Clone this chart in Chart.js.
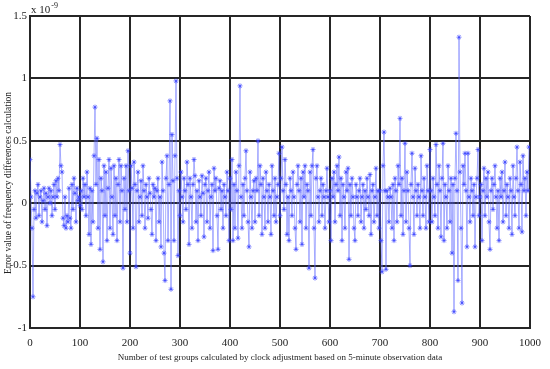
<!DOCTYPE html>
<html>
<head>
<meta charset="utf-8">
<script src="https://cdn.jsdelivr.net/npm/chart.js@4"></script>
<style>
  html, body { margin: 0; padding: 0; background: #fff; }
  #wrap { width: 550px; height: 369px; }
</style>
</head>
<body>
<div id="wrap"><canvas id="errChart" width="550" height="369"></canvas></div>
<script>
// test group index of each plotted value (every second group)
const groupIndex = Array.from({ length: 500 }, (_, i) => i * 2);

// error values, unit 1e-9
const errorValues = [
  0.35, 0.05, -0.2, -0.75, -0.05, 0.1, -0.12, 0.08, 0.15, -0.1, 0.05, 0.1, -0.15, 0.02, 0.12, -0.05, 0.08, -0.18, 0.05, 0.12, 0.0, 0.1, -0.1, 0.05, 0.15,
  -0.05, 0.18, 0.05, 0.2, 0.1, 0.47, 0.3, 0.25, -0.12, -0.18, 0.05, -0.2, -0.1, -0.15, 0.12, -0.12, -0.2, 0.15, -0.05, 0.2, 0.08, -0.15, 0.12, 0.02, 0.05,
  -0.02, 0.1, -0.05, 0.2, 0.05, 0.15, -0.1, 0.25, 0.05, -0.25, 0.12, -0.33, 0.1, -0.15, 0.38, 0.77, 0.15, 0.52, -0.2, 0.35, -0.37, 0.2, 0.1, -0.47, 0.3,
  -0.1, 0.25, -0.3, 0.12, 0.35, -0.2, 0.28, 0.05, -0.25, 0.3, -0.1, 0.2, -0.3, 0.15, 0.35, -0.15, 0.3, 0.1, -0.52, 0.2, -0.05, 0.3, -0.15, 0.42, 0.1,
  -0.4, 0.3, 0.12, -0.2, 0.33, 0.15, -0.51, 0.1, 0.25, -0.15, 0.05, 0.18, -0.1, 0.3, 0.1, -0.2, 0.15, 0.05, -0.12, 0.2, 0.08, -0.05, -0.25, 0.15, 0.05,
  0.12, -0.3, 0.1, 0.2, -0.15, 0.05, -0.35, 0.33, 0.1, -0.4, -0.62, 0.2, 0.38, -0.3, 0.15, 0.82, -0.69, 0.55, 0.18, -0.3, 0.38, 0.98, 0.2, -0.42, 0.1,
  -0.1, 0.25, 0.05, -0.15, 0.2, 0.1, -0.05, 0.33, 0.15, -0.33, 0.2, 0.05, -0.2, 0.15, 0.35, 0.22, -0.15, 0.1, -0.3, 0.18, 0.05, -0.1, 0.22, 0.08, -0.27,
  0.15, 0.2, -0.15, 0.1, 0.25, -0.2, 0.05, 0.15, -0.38, 0.28, 0.1, 0.2, -0.1, -0.37, 0.12, 0.18, -0.05, 0.1, -0.2, 0.15, 0.05, -0.1, 0.25, 0.1, -0.3,
  0.2, -0.05, 0.35, -0.3, 0.15, -0.2, 0.25, 0.1, -0.28, 0.3, 0.94, 0.05, -0.2, 0.15, -0.1, 0.2, 0.42, 0.1, -0.15, -0.35, 0.25, 0.05, -0.2, 0.1, 0.18,
  -0.15, 0.2, 0.1, 0.5, -0.1, 0.3, 0.15, -0.25, 0.2, 0.05, -0.2, 0.25, 0.1, -0.15, 0.15, 0.05, -0.25, 0.3, 0.1, -0.1, 0.2, -0.15, 0.05, 0.15, 0.4,
  -0.1, 0.2, 0.45, 0.1, -0.05, 0.35, 0.15, -0.25, 0.05, -0.3, 0.2, 0.1, -0.1, 0.25, 0.05, -0.2, -0.37, 0.15, 0.3, 0.1, -0.15, 0.2, -0.33, 0.25, 0.05,
  0.3, -0.2, 0.15, 0.1, -0.52, 0.25, -0.1, 0.3, 0.43, -0.2, -0.6, 0.2, 0.3, 0.05, -0.15, 0.1, 0.2, -0.1, 0.15, 0.05, -0.2, 0.1, 0.28, 0.05, -0.15,
  0.1, -0.3, 0.2, 0.05, 0.25, -0.15, 0.15, 0.3, 0.1, 0.37, -0.1, 0.2, -0.3, 0.15, 0.05, -0.2, 0.25, 0.1, 0.28, -0.45, 0.15, -0.1, 0.2, 0.05, -0.2,
  -0.3, 0.15, 0.05, -0.1, 0.1, 0.2, -0.15, 0.05, 0.15, -0.2, 0.1, -0.05, 0.2, 0.05, -0.1, 0.23, -0.25, 0.1, 0.15, -0.15, 0.05, 0.28, -0.1, 0.1, -0.2,
  0.1, -0.3, -0.55, 0.3, 0.57, 0.1, -0.53, 0.1, 0.05, -0.15, 0.12, 0.05, -0.2, 0.15, -0.3, 0.2, 0.1, -0.15, 0.3, 0.15, 0.68, -0.1, 0.2, -0.25, 0.1,
  0.48, -0.15, 0.25, 0.1, -0.2, -0.5, 0.15, 0.4, 0.05, -0.25, 0.28, 0.1, -0.1, 0.15, 0.05, -0.2, 0.38, 0.1, -0.1, 0.2, 0.05, -0.2, 0.3, 0.1, -0.15,
  0.43, 0.1, -0.15, 0.2, 0.05, -0.1, 0.47, 0.15, -0.2, 0.3, 0.1, -0.27, 0.2, 0.48, -0.3, 0.15, 0.05, -0.2, 0.3, 0.1, -0.15, 0.2, -0.4, 0.15, -0.87,
  0.2, 0.56, 0.1, -0.62, 1.33, 0.25, -0.2, -0.8, 0.3, 0.15, 0.4, 0.1, -0.35, 0.4, 0.05, -0.15, 0.2, 0.1, -0.1, 0.15, -0.35, 0.05, 0.2, 0.43, -0.1,
  0.05, 0.15, -0.3, 0.1, 0.28, -0.1, 0.2, 0.05, 0.25, -0.15, -0.37, 0.1, 0.2, -0.05, 0.15, 0.3, 0.05, -0.2, 0.1, -0.3, 0.2, 0.05, 0.25, -0.15, 0.1,
  0.33, -0.1, 0.15, 0.05, -0.2, 0.2, 0.1, -0.25, 0.3, 0.05, -0.1, 0.2, 0.45, 0.1, -0.2, 0.33, 0.15, -0.23, 0.38, 0.1, 0.2, -0.1, 0.25, 0.1, 0.45
];

const xTicks = [0, 100, 200, 300, 400, 500, 600, 700, 800, 900, 1000];
const yTicks = [-1, -0.5, 0, 0.5, 1, 1.5];
const yTitle = 'Error value of frequency differences calculation';

const serif = '"Liberation Serif", "DejaVu Serif", serif';
const gridColor = '#262626';

// "x 10^-9" note above the plot and the rotated y title
const extraText = {
  id: 'extraText',
  afterDraw(chart) {
    const ctx = chart.ctx;
    const a = chart.chartArea;
    ctx.save();
    ctx.fillStyle = '#222';
    ctx.textBaseline = 'alphabetic';
    ctx.font = '11px ' + serif;
    ctx.fillText('x 10', a.left + 1, a.top - 3);
    const w = ctx.measureText('x 10').width;
    ctx.font = '8px ' + serif;
    ctx.fillText('-9', a.left + 1 + w + 1, a.top - 8);

    ctx.translate(8, 183);
    ctx.rotate(-Math.PI / 2);
    ctx.font = '9.5px ' + serif;
    ctx.textAlign = 'center';
    ctx.textBaseline = 'middle';
    ctx.fillText(yTitle, 0, 0);
    ctx.restore();
  }
};

const ctx = document.getElementById('errChart').getContext('2d');
new Chart(ctx, {
  type: 'line',
  data: {
    datasets: [{
      data: groupIndex.map((g, i) => ({ x: g, y: errorValues[i] })),
      borderColor: 'rgba(90, 100, 255, 0.5)',
      borderWidth: 1,
      pointStyle: 'star',
      pointRadius: 2.5,
      pointBorderWidth: 0.8,
      pointBorderColor: 'rgba(50, 60, 255, 0.8)',
      pointBackgroundColor: 'rgba(50, 60, 255, 0.8)',
      tension: 0,
      fill: false
    }]
  },
  options: {
    responsive: false,
    animation: false,
    layout: { padding: { left: 0, top: 16, right: 18, bottom: 6 } },
    plugins: { legend: { display: false }, tooltip: { enabled: false } },
    scales: {
      x: {
        type: 'linear',
        min: 0, max: 1000,
        afterBuildTicks: s => { s.ticks = xTicks.map(v => ({ value: v })); },
        afterFit: s => { s.height = 35; },
        grid: { color: gridColor, lineWidth: 2, drawTicks: false },
        border: { color: gridColor, width: 2 },
        ticks: {
          color: '#222', padding: 9,
          font: { family: serif, size: 11 },
          callback: v => String(v)
        },
        title: {
          display: true,
          text: 'Number of test groups calculated by clock adjustment based on 5-minute observation data',
          color: '#222',
          font: { family: serif, size: 9 },
          padding: { top: 0, bottom: 0 }
        }
      },
      y: {
        min: -1, max: 1.5,
        afterBuildTicks: s => { s.ticks = yTicks.map(v => ({ value: v })); },
        afterFit: s => { s.width = 30; },
        grid: { color: gridColor, lineWidth: 2, drawTicks: false },
        border: { color: gridColor, width: 2 },
        ticks: {
          color: '#222', padding: 3,
          font: { family: serif, size: 11 },
          callback: v => String(v)
        }
      }
    }
  },
  plugins: [extraText]
});
</script>
</body>
</html>
